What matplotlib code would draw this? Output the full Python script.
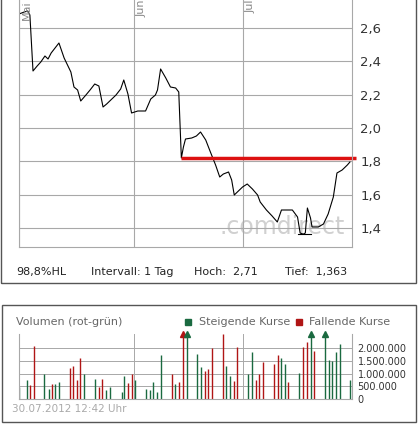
import matplotlib
matplotlib.use("Agg")
import matplotlib.pyplot as plt
from matplotlib.patches import Rectangle

price_day = [0,1,1.7,2.1,2.7,3.5,4.2,5,5.6,6.2,7.7,8.7,10,10.6,11.3,11.9,12.9,13.7,14.6,15.4,16.2,16.9,17.7,18.7,19.6,20.2,21,21.7,22.9,24.4,25.4,26.3,26.7,27.3,28.3,29.2,30.2,30.8,31.3,31.7,32.1,33.3,34.2,35,36,36.9,37.9,38.7,39.4,40.4,41,41.5,42.3,43.1,44,45,46,46.5,47.7,48.8,49.8,50.6,51.3,52.7,53.7,54.2,54.8,55.2,55.6,56.2,56.5,57.7,58.7,59.6,60.6,61.3,62.3,63.3,63.8]
price = [2.684,2.696,2.702,2.678,2.342,2.372,2.396,2.432,2.414,2.45,2.51,2.42,2.336,2.246,2.228,2.162,2.198,2.228,2.264,2.252,2.126,2.144,2.168,2.198,2.234,2.288,2.204,2.09,2.102,2.102,2.174,2.198,2.228,2.354,2.3,2.246,2.24,2.216,1.82,1.886,1.934,1.94,1.952,1.976,1.928,1.856,1.778,1.706,1.724,1.736,1.688,1.598,1.622,1.646,1.664,1.634,1.598,1.556,1.508,1.472,1.436,1.508,1.508,1.508,1.466,1.37,1.363,1.37,1.52,1.46,1.406,1.406,1.424,1.484,1.586,1.73,1.748,1.778,1.796]
support_start, support_end, support_level = 31.3, 65.0, 1.82
low_day, low_val = 55.0, 1.363

vol_day = [0,1.5,2.1,2.8,4.9,5.7,6.3,7.0,7.8,9.9,10.5,11.2,11.8,12.6,14.7,15.5,16.0,16.8,17.6,19.8,20.3,21.0,21.8,22.4,24.5,25.3,25.9,26.7,27.4,29.5,30.1,30.9,31.7,32.3,34.4,35.1,35.9,36.4,37.2,39.4,39.9,40.6,41.4,42.1,44.2,44.9,45.6,46.3,47.1,49.1,49.9,50.5,51.3,51.9,54.0,54.8,55.5,56.2,56.9,58.9,59.7,60.3,61.1,61.9,63.8]
vol_mio = [0.46,0.73,0.56,2.06,0.98,0.4,0.6,0.6,0.68,1.2,1.28,0.76,1.62,0.99,0.8,0.46,0.8,0.34,0.48,0.29,0.92,0.64,0.99,0.76,0.4,0.34,0.68,0.29,1.74,0.97,0.6,0.68,2.8,2.8,1.78,1.27,1.11,1.16,1.99,2.55,1.31,0.92,0.72,2.05,0.98,1.86,0.76,0.99,1.44,1.36,1.74,1.62,1.39,0.68,1.03,2.05,2.22,2.8,1.9,2.8,1.54,1.5,1.83,2.17,0.76]
vol_color = ["g","g","r","r","g","g","r","g","g","r","r","r","r","g","g","r","r","g","g",
             "g","g","r","r","g","g","g","g","g","g","r","g","r","r","g","g","g","r","r",
             "r","r","g","g","r","r","g","g","r","r","r","r","r","g","g","r","g","r","r",
             "g","r","g","g","g","g","g","g"]
month_day = [0, 22.1, 43.1]
month_lab = ["Mai", "Jun", "Jul"]

GREEN = "#1a6a40"; RED = "#b01515"; GRID = "#a8a8a8"
W, H = 418, 425
fig = plt.figure(figsize=(W/100, H/100), dpi=100)
fig.patch.set_facecolor("white")

def fx(px): return px / W
def fy(py): return 1 - py / H

fig.patches.append(Rectangle((fx(1), fy(283)), fx(415), 284/H, fill=False, ec="#555555", lw=1, transform=fig.transFigure))
fig.patches.append(Rectangle((fx(2), fy(422)), fx(414), 117/H, fill=False, ec="#555555", lw=1, transform=fig.transFigure))

XMAX = 64.2
ax = fig.add_axes([fx(19), fy(247), fx(333), 247/H])
ax.text(0.79, 0.08, ".comdirect", transform=ax.transAxes, fontsize=17, color="#d0d0d0",
        ha="center", va="center", zorder=0)
ax.plot(price_day, price, color="black", lw=0.8)
ax.plot([support_start, support_end], [support_level]*2, color="#dd1111", lw=2.5, solid_capstyle="butt", clip_on=False)
ax.plot([low_day-1.2, low_day+1.2], [low_val]*2, color="black", lw=0.8)
ax.set_xlim(0, XMAX); ax.set_ylim(1.286, 2.768)
ax.set_yticks([1.4, 1.6, 1.8, 2.0, 2.2, 2.4, 2.6])
ax.set_yticklabels(["1,4", "1,6", "1,8", "2,0", "2,2", "2,4", "2,6"])
ax.yaxis.tick_right()
ax.tick_params(axis="y", length=0, pad=6, labelsize=9.5, colors="#333333")
ax.set_xticks(month_day); ax.set_xticklabels([])
ax.tick_params(axis="x", length=0)
ax.grid(True, color=GRID, lw=0.8)
for s in ["left", "bottom", "right"]:
    ax.spines[s].set_color(GRID)
ax.spines["top"].set_visible(False)
for d, lab in zip(month_day, month_lab):
    ax.text(d + 0.6, 2.768, lab, rotation=90, va="top", ha="left", fontsize=8, color="#888888")

for x, t in [(16, "98,8%HL"), (91, "Intervall: 1 Tag"), (194, "Hoch:  2,71"), (285, "Tief:  1,363")]:
    fig.text(fx(x), fy(272), t, fontsize=8, va="center", ha="left", color="#222222")

VMAX = 2.55
axv = fig.add_axes([fx(19), fy(399), fx(333), 65/H])
for d, v, c in zip(vol_day, vol_mio, vol_color):
    col = GREEN if c == "g" else RED
    axv.vlines(d, 0, min(v, VMAX), color=col, lw=1)
    if v > VMAX:
        axv.plot(d, VMAX, marker="^", color=col, ms=4, clip_on=False)
axv.set_xlim(0, XMAX); axv.set_ylim(0, VMAX)
axv.set_yticks([0, 0.5, 1.0, 1.5, 2.0])
axv.set_yticklabels(["0", "500.000", "1.000.000", "1.500.000", "2.000.000"])
axv.yaxis.tick_right()
axv.tick_params(axis="y", length=0, pad=4, labelsize=7, colors="#333333")
axv.set_xticks(month_day); axv.set_xticklabels([])
axv.tick_params(axis="x", length=0)
axv.grid(True, color=GRID, lw=0.7)
axv.set_axisbelow(True)
for s in ["left", "bottom", "right"]:
    axv.spines[s].set_color(GRID)
axv.spines["top"].set_visible(False)

fig.text(fx(16), fy(322), "Volumen (rot-grün)", fontsize=8, color="#666666", va="center")
fig.patches.append(Rectangle((fx(185), fy(325)), 6/W, 6/H, color=GREEN, transform=fig.transFigure))
fig.text(fx(199), fy(322), "Steigende Kurse", fontsize=8, color="#666666", va="center")
fig.patches.append(Rectangle((fx(296), fy(325)), 6/W, 6/H, color=RED, transform=fig.transFigure))
fig.text(fx(309), fy(322), "Fallende Kurse", fontsize=8, color="#666666", va="center")
fig.text(fx(12), fy(409), "30.07.2012 12:42 Uhr", fontsize=7.5, color="#aaaaaa", va="center")

fig.savefig("out.png", dpi=100)
